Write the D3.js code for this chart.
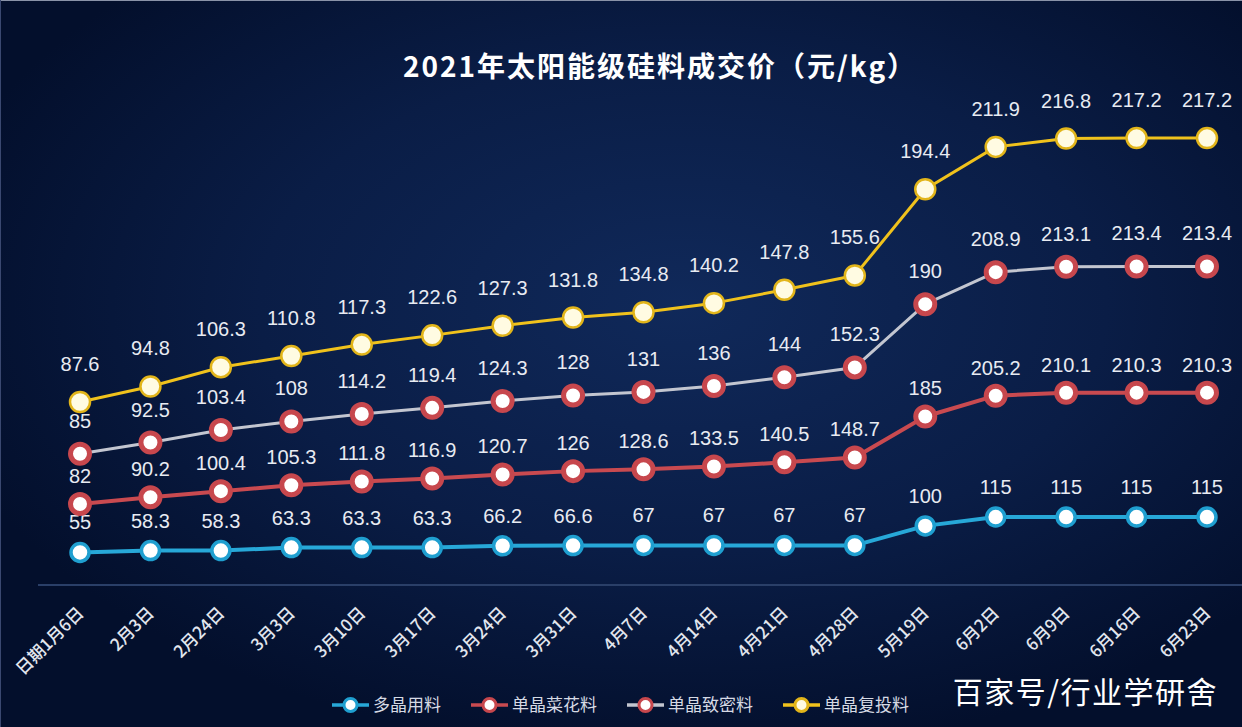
<!DOCTYPE html>
<html><head><meta charset="utf-8">
<script src="https://cdn.jsdelivr.net/npm/d3@7"></script>
<style>
html,body{margin:0;padding:0;background:#061230;}
svg{display:block;}
</style></head>
<body>
<svg id="chart" width="1242" height="727"></svg>
<script>
const categories = ["日期1月6日","2月3日","2月24日","3月3日","3月10日","3月17日","3月24日","3月31日","4月7日","4月14日","4月21日","4月28日","5月19日","6月2日","6月9日","6月16日","6月23日"];
const seriesNames = ["多晶用料","单晶菜花料","单晶致密料","单晶复投料"];
const duojing = [55,58.3,58.3,63.3,63.3,63.3,66.2,66.6,67,67,67,67,100,115,115,115,115];
const caihua = [82,90.2,100.4,105.3,111.8,116.9,120.7,126,128.6,133.5,140.5,148.7,185,205.2,210.1,210.3,210.3];
const zhimi = [85,92.5,103.4,108,114.2,119.4,124.3,128,131,136,144,152.3,190,208.9,213.1,213.4,213.4];
const futou = [87.6,94.8,106.3,110.8,117.3,122.6,127.3,131.8,134.8,140.2,147.8,155.6,194.4,211.9,216.8,217.2,217.2];
const title = "2021年太阳能级硅料成交价（元/kg）";
const watermark = "百家号/行业学研舍";

const W = 1242, H = 727;
const svg = d3.select("#chart");
const defs = svg.append("defs");
const bg = defs.append("radialGradient").attr("id","bg")
  .attr("cx","55%").attr("cy","42%").attr("r","62%");
bg.append("stop").attr("offset","0%").attr("stop-color","#10295a");
bg.append("stop").attr("offset","55%").attr("stop-color","#0a1d46");
bg.append("stop").attr("offset","100%").attr("stop-color","#030f2c");
svg.append("rect").attr("width",W).attr("height",H).attr("fill","url(#bg)");
svg.append("line").attr("x1",0).attr("x2",W).attr("y1",0.5).attr("y2",0.5).attr("stroke","#8a93a8").attr("stroke-width",1);
svg.append("line").attr("x1",0.5).attr("x2",0.5).attr("y1",0).attr("y2",H).attr("stroke","#3a4870").attr("stroke-width",1);

const x = d3.scalePoint().domain(categories).range([80,1207]);
const y = d3.scaleLinear().domain([0,800]).range([585,112]);

// title
svg.append("text").attr("x",660).attr("y",77).attr("text-anchor","middle")
  .attr("font-family","'Noto Sans CJK SC','Noto Sans',sans-serif").attr("font-weight","bold")
  .attr("font-size",28).attr("fill","#ffffff").attr("letter-spacing",2).text(title);

// axis
const xAxis = d3.axisBottom(x).tickSize(0).tickPadding(0);
const gx = svg.append("g").attr("transform","translate(0,585)").call(xAxis);
gx.select(".domain").remove();
svg.append("line").attr("x1",38).attr("x2",W).attr("y1",585).attr("y2",585)
  .attr("stroke","#2a3f68").attr("stroke-width",2);
gx.selectAll(".tick text")
  .attr("font-family","'Noto Sans CJK SC','Liberation Sans',sans-serif")
  .attr("font-size",17).attr("font-weight",500).attr("fill","#e2e6ee")
  .attr("text-anchor","end").attr("y",0).attr("dy","0.35em")
  .attr("transform","translate(0,25) rotate(-45)");

// stacked data
const raw = [duojing, caihua, zhimi, futou];
const rows = categories.map((c,i)=>{const o={cat:c}; seriesNames.forEach((s,k)=>o[s]=raw[k][i]); return o;});
const stacked = d3.stack().keys(seriesNames)(rows);

const styles = [
  {line:"#27a8d8", lw:4, stroke:"#1f9fd0", sw:3.5, fill:"#ffffff", r:9, off:30},
  {line:"#c94a50", lw:4, stroke:"#c7474d", sw:5, fill:"#ffffff", r:9.5, off:28},
  {line:"#c3c6d0", lw:3, stroke:"#c7474d", sw:5, fill:"#ffffff", r:9.5, off:33},
  {line:"#f0c21c", lw:3, stroke:"#e2b51a", sw:2.5, fill:"#fffbe2", r:10, off:38}
];

const lineGen = d3.line().x(d=>x(d.data.cat)).y(d=>y(d[1]));

stacked.forEach((layer,k)=>{
  const st = styles[k];
  const g = svg.append("g");
  g.append("path").datum(layer).attr("d",lineGen).attr("fill","none")
    .attr("stroke",st.line).attr("stroke-width",st.lw).attr("stroke-linejoin","round");
  g.selectAll("circle").data(layer).join("circle")
    .attr("cx",d=>x(d.data.cat)).attr("cy",d=>y(d[1])).attr("r",st.r)
    .attr("fill",st.fill).attr("stroke",st.stroke).attr("stroke-width",st.sw);
  g.selectAll("text").data(layer).join("text")
    .attr("x",d=>x(d.data.cat)).attr("y",d=>y(d[1])-st.off).attr("dy","0.35em")
    .attr("text-anchor","middle").attr("font-family","'Liberation Sans',Arial,sans-serif")
    .attr("font-size",20).attr("fill","#e8ebf2")
    .text(d=>d.data[layer.key]);
});

// legend
const legendX = [332,471,627,783];
const legend = svg.append("g").attr("transform","translate(0,705)");
seriesNames.forEach((s,k)=>{
  const st = styles[k];
  const g = legend.append("g").attr("transform",`translate(${legendX[k]},0)`);
  g.append("line").attr("x1",0).attr("x2",37).attr("y1",0).attr("y2",0)
    .attr("stroke",st.line).attr("stroke-width",3.5);
  g.append("circle").attr("cx",18.5).attr("cy",0).attr("r",6.5)
    .attr("fill",st.fill).attr("stroke",st.stroke).attr("stroke-width",3);
  g.append("text").attr("x",41).attr("y",0).attr("dy","0.35em")
    .attr("font-family","'Noto Sans CJK SC',sans-serif").attr("font-size",17)
    .attr("fill","#d6dae4").text(s);
});

// watermark
svg.append("text").attr("x",1218).attr("y",692).attr("dy","0.35em").attr("text-anchor","end")
  .attr("font-family","'Noto Sans CJK SC',sans-serif").attr("font-size",30)
  .attr("letter-spacing",1.5).attr("fill","#ffffff").text(watermark);
</script>
</body></html>
